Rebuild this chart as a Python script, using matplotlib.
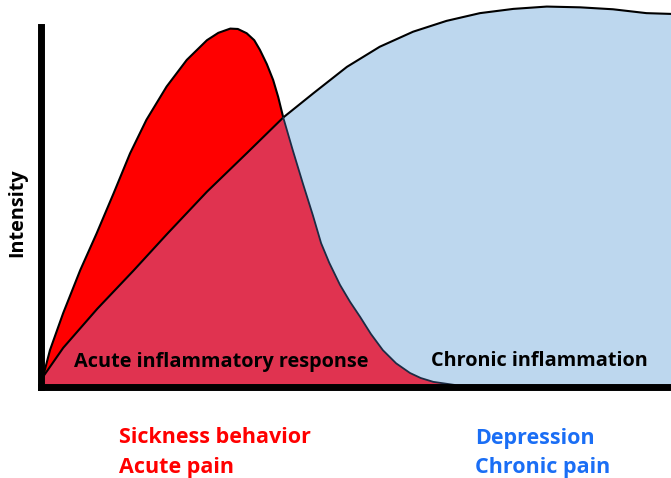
import matplotlib.pyplot as plt
from matplotlib.patches import Polygon

plt.rcParams['font.family'] = ['Open Sans', 'DejaVu Sans']

# acute (red) curve, time 0-100 / intensity 0-100
acute_t = [0.4, 1.5, 3.6, 6.3, 8.9, 11.6, 14.2, 16.8, 20.0, 23.2, 26.4, 28.2,
           30.1, 31.3, 32.7, 33.9, 34.8, 35.9, 36.9, 37.7, 38.5,
           40.0, 41.6, 43.2, 44.5, 45.8, 47.5, 49.1, 50.7, 52.4, 54.3, 56.4,
           58.6, 60.3, 62.3, 65.7]
acute_y = [2.5, 9.4, 19.0, 30.1, 39.6, 50.0, 60.3, 69.0, 77.6, 84.5, 89.6, 91.5,
           92.6, 92.5, 91.4, 89.6, 87.1, 83.4, 79.3, 74.9, 69.6,
           61.2, 52.6, 44.3, 37.1, 32.0, 26.3, 21.9, 18.0, 13.6, 9.4, 6.0,
           3.5, 2.2, 1.2, 0.4]
acute_cross = 20  # index where the acute curve meets the chronic one

# chronic (blue) curve
chronic_t = [0.4, 3.6, 9.0, 14.7, 20.1, 26.4, 32.8, 38.5, 43.3, 48.6, 53.8,
             59.1, 64.4, 69.7, 75.0, 80.3, 85.6, 90.8, 96.1, 100.0]
chronic_y = [2.5, 10.0, 20.1, 29.9, 39.5, 50.4, 60.5, 69.6, 75.9, 82.7, 87.9,
             91.8, 94.6, 96.6, 97.7, 98.3, 98.1, 97.6, 96.6, 96.4]

labels_left = ["Sickness behavior", "Acute pain"]
labels_right = ["Depression", "Chronic pain"]

RED = '#ff0000'
CRIMSON = '#e03350'
LIGHTBLUE = '#bdd7ee'
BLUE = '#1a6ef5'

fig = plt.figure(figsize=(6.71, 4.78), dpi=100)
ax = fig.add_axes([40.5 / 671, 91.5 / 478, 630.5 / 671, 386.5 / 478])
ax.set_xlim(0, 100)
ax.set_ylim(0, 100)

chronic_poly = list(zip(chronic_t, chronic_y)) + [(100, 0), (0.4, 0)]
acute_poly = list(zip(acute_t, acute_y)) + [(0.4, 0)]

ax.add_patch(Polygon(acute_poly, closed=True, facecolor=RED, edgecolor='none'))
blue_patch = Polygon(chronic_poly, closed=True, facecolor=LIGHTBLUE, edgecolor='none')
ax.add_patch(blue_patch)
overlap = Polygon(acute_poly, closed=True, facecolor=CRIMSON, edgecolor='none')
ax.add_patch(overlap)
overlap.set_clip_path(blue_patch)

line_kw = dict(solid_joinstyle='round', solid_capstyle='round')
ax.plot(chronic_t, chronic_y, color='black', lw=1.5, **line_kw)
ax.plot(acute_t[:acute_cross + 1], acute_y[:acute_cross + 1], color='black', lw=1.5, **line_kw)
ax.plot(acute_t[acute_cross:], acute_y[acute_cross:], color='#1c2c44', lw=1.3, **line_kw)

for side in ['top', 'right']:
    ax.spines[side].set_visible(False)
for side in ['left', 'bottom']:
    ax.spines[side].set_linewidth(5)
    ax.spines[side].set_color('black')
    ax.spines[side].set_capstyle('projecting')
ax.spines['left'].set_bounds(0, 93)
ax.set_xticks([])
ax.set_yticks([])
ax.patch.set_alpha(0)

ax.text(28.7, 5.0, "Acute inflammatory response", fontsize=14.3, fontweight='bold',
        ha='center', va='baseline')
ax.text(79.1, 5.3, "Chronic inflammation", fontsize=14.3, fontweight='bold',
        ha='center', va='baseline')

fig.text(17 / 671, 1 - 213 / 478, "Intensity", rotation=90, fontsize=14.3,
         fontweight='bold', ha='center', va='center')

for i, s in enumerate(labels_left):
    fig.text(119 / 671, 1 - (443 + 30 * i) / 478, s, color=RED, fontsize=15.5,
             fontweight='bold', va='baseline')
for i, s in enumerate(labels_right):
    fig.text(475 / 671, 1 - (444 + 29 * i) / 478, s, color=BLUE, fontsize=15.5,
             fontweight='bold', va='baseline')

fig.savefig('out.png', dpi=100)
